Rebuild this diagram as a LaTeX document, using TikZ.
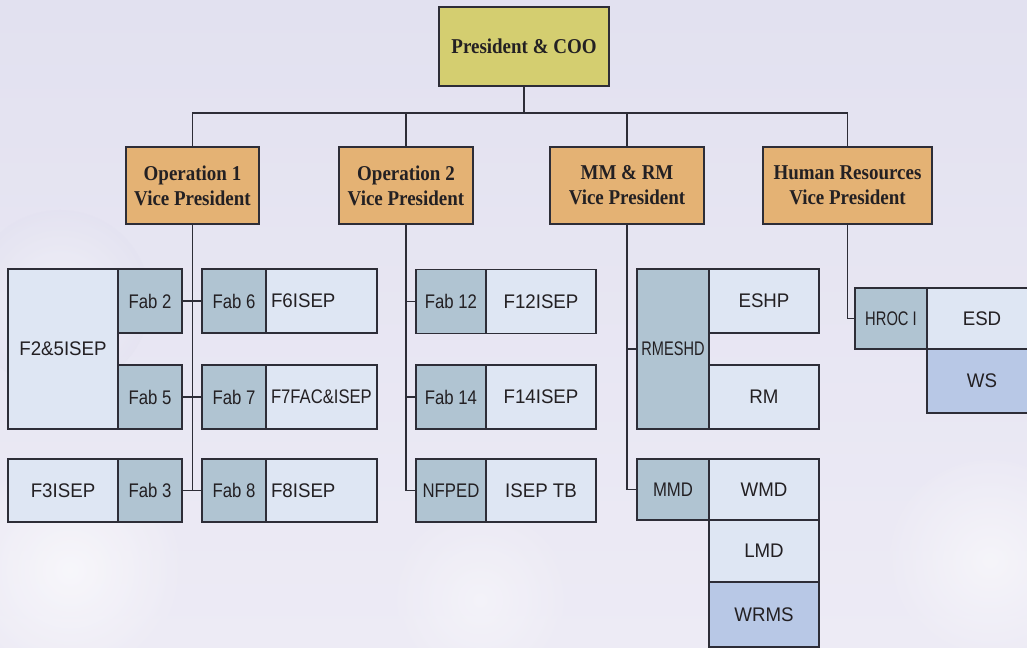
\documentclass[tikz,border=0pt]{standalone}
\usepackage{fontspec}
\setmainfont{Liberation Serif}[FakeStretch=0.9]
\newfontfamily\fabfont[FakeStretch=0.85]{Liberation Sans}
\newfontfamily\isepfont[FakeStretch=0.95]{Liberation Sans}
\usetikzlibrary{positioning}

\definecolor{prescol}{RGB}{212,206,112}
\definecolor{vpcol}{RGB}{228,178,116}
\definecolor{fabcol}{RGB}{176,196,210}
\definecolor{isepcol}{RGB}{222,230,243}
\definecolor{wscol}{RGB}{184,200,230}
\definecolor{linecol}{RGB}{45,45,55}
\definecolor{textcol}{RGB}{35,32,35}
\definecolor{bgtop}{RGB}{226,225,240}
\definecolor{bgbot}{RGB}{237,235,245}

\newcommand{\pxu}{0.025cm}

\tikzset{
  box/.style={draw=linecol, line width=1pt, inner sep=0pt, outer sep=0pt,
    text=textcol, align=center},
  headbox/.style={box, font=\fontsize{15}{17.8}\selectfont\bfseries,
    minimum height=77*\pxu},
  subbox/.style={box, minimum height=64*\pxu, minimum width=110*\pxu},
  fabbox/.style={subbox, fill=fabcol, minimum width=64*\pxu,
    font=\fabfont\fontsize{14}{15}\selectfont},
  isepbox/.style={subbox, fill=isepcol, font=\isepfont\fontsize{14}{15}\selectfont},
  wsbox/.style={isepbox, fill=wscol},
  leftisep/.style={isepbox, text width=101*\pxu, inner xsep=5*\pxu, align=left},
  conn/.style={draw=linecol, line width=1pt}
}

\begin{document}
\begin{tikzpicture}[x=\pxu, y=-\pxu]

  % background
  \useasboundingbox (0,0) rectangle (1027,648);
  \shade[top color=bgtop, bottom color=bgbot] (0,0) rectangle (1027,648);
  \shade[inner color=white, outer color=bgbot, opacity=0.6] (70,570) circle (110);
  \shade[inner color=white, outer color=bgbot, opacity=0.5] (990,560) circle (100);
  \shade[inner color=white, outer color=bgbot, opacity=0.4] (480,600) circle (90);
  \shade[inner color=white, outer color=bgtop, opacity=0.4] (60,300) circle (90);

  % top levels
  \node[headbox, fill=prescol, minimum width=170*\pxu, minimum height=79*\pxu] (pres) at (524,46.5) {President \& COO};
  \node[headbox, fill=vpcol, minimum width=133*\pxu] (op1) at (192.5,185.5) {Operation 1\\Vice President};
  \node[headbox, fill=vpcol, minimum width=134*\pxu] (op2) at (406,185.5) {Operation 2\\Vice President};
  \node[headbox, fill=vpcol, minimum width=154*\pxu] (mm) at (627,185.5) {MM \& RM\\Vice President};
  \node[headbox, fill=vpcol, minimum width=169*\pxu] (hr) at (847.5,185.5) {Human Resources\\Vice President};

  % operation 1
  \node[fabbox] (fab2) at (150,301) {Fab 2};
  \node[fabbox] (fab5) at (150,397) {Fab 5};
  \node[isepbox, minimum height=160*\pxu] (f25) at (63,349) {F2\&5ISEP};
  \node[fabbox, minimum height=63*\pxu] (fab3) at (150,490.5) {Fab 3};
  \node[isepbox, minimum height=63*\pxu, left=0pt of fab3] (f3) {F3ISEP};
  \node[fabbox] (fab6) at (234,301) {Fab 6};
  \node[leftisep, right=0pt of fab6] (f6) {F6ISEP};
  \node[fabbox] (fab7) at (234,397) {Fab 7};
  \node[leftisep, right=0pt of fab7] (f7) {\scalebox{0.89}[1]{F7FAC\&ISEP}};
  \node[fabbox, minimum height=63*\pxu] (fab8) at (234,490.5) {Fab 8};
  \node[leftisep, minimum height=63*\pxu, right=0pt of fab8] (f8) {F8ISEP};

  % operation 2
  \node[fabbox, minimum width=70*\pxu] (fab12) at (451,301.5) {Fab 12};
  \node[isepbox, right=0pt of fab12] (f12) {F12ISEP};
  \node[fabbox, minimum width=70*\pxu] (fab14) at (451,397) {Fab 14};
  \node[isepbox, right=0pt of fab14] (f14) {F14ISEP};
  \node[fabbox, minimum width=70*\pxu, minimum height=63*\pxu] (nfped) at (451,490.5) {NFPED};
  \node[isepbox, minimum height=63*\pxu, right=0pt of nfped] (isetb) {ISEP TB};

  % mm & rm
  \node[fabbox, minimum width=72*\pxu, minimum height=160*\pxu] (rmeshd) at (673,349) {\scalebox{0.87}[1]{RMESHD}};
  \node[isepbox] (eshp) at (764,301) {ESHP};
  \node[isepbox] (rm) at (764,397) {RM};
  \node[fabbox, minimum width=72*\pxu, minimum height=61*\pxu] (mmd) at (673,489.5) {MMD};
  \node[isepbox, minimum height=61*\pxu, right=0pt of mmd] (wmd) {WMD};
  \node[isepbox, minimum height=62*\pxu, below=0pt of wmd] (lmd) {LMD};
  \node[wsbox, minimum height=65*\pxu, below=0pt of lmd] (wrms) {WRMS};

  % human resources
  \node[fabbox, minimum width=72*\pxu, minimum height=61*\pxu] (hroc) at (891,318.5) {\scalebox{0.88}[1]{HROC I}};
  \node[isepbox, minimum height=61*\pxu, right=0pt of hroc] (esd) {ESD};
  \node[wsbox, below=0pt of esd] (ws) {WS};

  % connectors
  \coordinate (bus) at (524,113);
  \draw[conn] (pres.south) -- (bus);
  \draw[conn] (op1.north) |- (bus) -| (hr.north);
  \draw[conn] (op2.north) -- (op2.north |- bus);
  \draw[conn] (mm.north) -- (mm.north |- bus);

  \draw[conn] (op1.south) -- (op1.south |- fab8.west);
  \draw[conn] (fab2.east) -- (fab6.west);
  \draw[conn] (fab5.east) -- (fab7.west);
  \draw[conn] (fab3.east) -- (fab8.west);

  \draw[conn] (op2.south) |- (nfped.west);
  \draw[conn] (op2.south |- fab12.west) -- (fab12.west);
  \draw[conn] (op2.south |- fab14.west) -- (fab14.west);

  \draw[conn] (mm.south) |- (mmd.west);
  \draw[conn] (mm.south |- rmeshd.west) -- (rmeshd.west);

  \draw[conn] (hr.south) |- (hroc.west);

\end{tikzpicture}
\end{document}
